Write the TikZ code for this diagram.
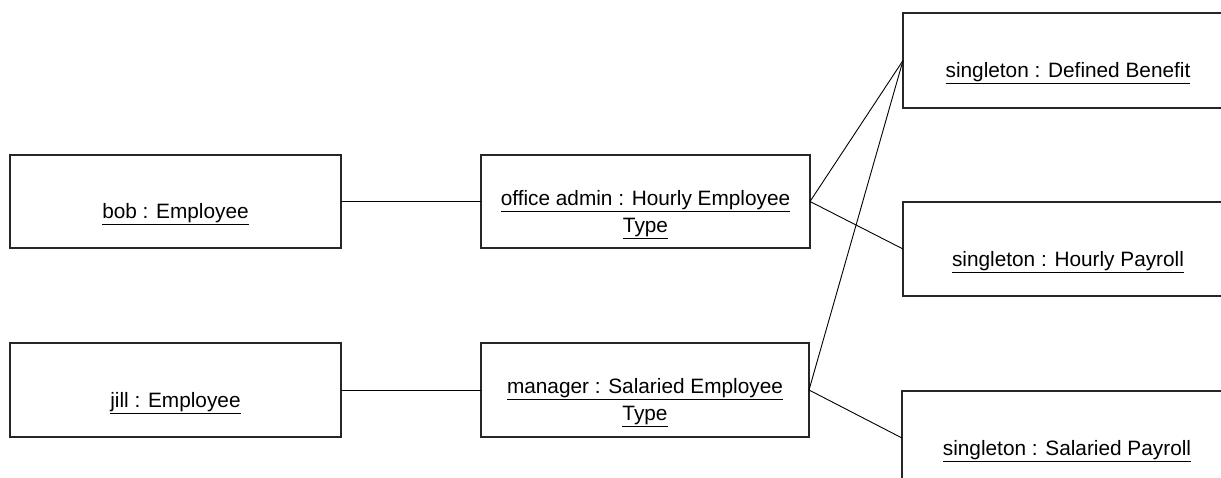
\documentclass[tikz,border=0pt]{standalone}
\usepackage{fontspec}
\setmainfont{Liberation Sans}
\begin{document}
\begin{tikzpicture}[x=1pt,y=-1pt,
  objbox/.style={draw=black!85, line width=1.1pt, outer sep=0pt, inner sep=0pt},
  lbl/.style={font=\fontsize{20.8}{27}\selectfont, align=center, inner sep=0pt},
  link/.style={draw=black, line width=0.9pt}]
\useasboundingbox (0,0) rectangle (1221,478);
\clip (0,0) rectangle (1221,478);
% boxes
\node[objbox, minimum width=331pt, minimum height=93pt] (bob) at (175.5,201.5) {};
\node[objbox, minimum width=331pt, minimum height=94pt] (jill) at (175.5,390) {};
\node[objbox, minimum width=329pt, minimum height=93pt] (office) at (645.5,201.5) {};
\node[objbox, minimum width=328pt, minimum height=94pt] (manager) at (645,390) {};
\node[objbox, minimum width=330pt, minimum height=95pt] (db) at (1068,60.5) {};
\node[objbox, minimum width=330pt, minimum height=94pt] (hp) at (1068,249) {};
\node[objbox, minimum width=330pt, minimum height=94pt] (sp) at (1067,438) {};
% labels
\node[lbl] (bobt) at ([yshift=-13pt]bob.center) {\underline{bob : Employee}};
\node[lbl] (jillt) at ([yshift=-13pt]jill.center) {\underline{jill : Employee}};
\node[lbl] (officet) at ([yshift=-13pt]office.center) {\underline{office admin : Hourly Employee}\\\underline{Type}};
\node[lbl] (managert) at ([yshift=-13pt]manager.center) {\underline{manager : Salaried Employee}\\\underline{Type}};
\node[lbl] (dbt) at ([yshift=-13pt]db.center) {\underline{singleton : Defined Benefit}};
\node[lbl] (hpt) at ([yshift=-13pt]hp.center) {\underline{singleton : Hourly Payroll}};
\node[lbl] (spt) at ([yshift=-13pt]sp.center) {\underline{singleton : Salaried Payroll}};
% connectors
\draw[link] (bob.east) -- (office.west);
\draw[link] (jill.east) -- (manager.west);
\draw[link] (office.east) -- (db.west);
\draw[link] (office.east) -- (hp.west);
\draw[link] (manager.east) -- (db.west);
\draw[link] (manager.east) -- (sp.west);
\end{tikzpicture}
\end{document}
